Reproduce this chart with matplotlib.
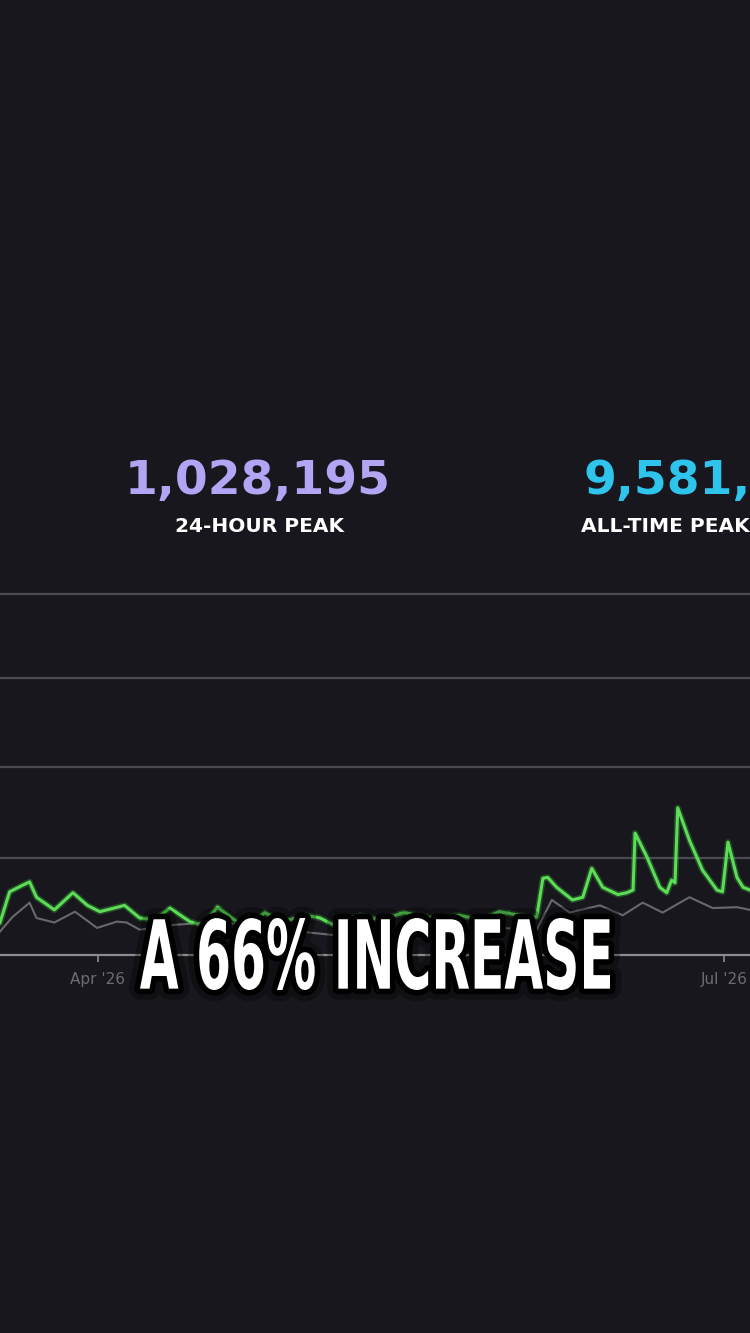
#
# Player count chart with peak stats and caption
#

import matplotlib.pyplot as plt
import matplotlib.patheffects as pe
from matplotlib.textpath import TextPath
from matplotlib.patches import PathPatch
from matplotlib.font_manager import FontProperties
from matplotlib.transforms import Affine2D

green_days = [-14.2, -12.8, -11.0, -9.9, -8.9, -6.3, -3.6, -1.5, 0.3, 2.9,
              3.9, 6.1, 8.3, 10.5, 13.4, 15.3, 17.4, 20.2, 22.1, 24.3,
              26.7, 30.4, 32.3, 34.4, 38.1, 41.0, 44.6, 48.3, 52.6, 55.5,
              58.4, 62.8, 63.8, 64.7, 65.4, 66.7, 69.0, 70.5, 71.8, 73.4,
              75.6, 76.9, 77.8, 78.1, 79.8, 81.7, 82.7, 83.4, 83.9, 84.3,
              86.0, 87.9, 90.0, 90.8, 91.6, 92.9, 93.8, 94.8]
green_vals = [0.36, 0.70, 0.77, 0.81, 0.64, 0.50, 0.69, 0.55, 0.48, 0.53,
              0.55, 0.41, 0.39, 0.52, 0.37, 0.33, 0.53, 0.37, 0.34, 0.47,
              0.37, 0.44, 0.41, 0.33, 0.44, 0.39, 0.47, 0.41, 0.44, 0.39,
              0.48, 0.42, 0.42, 0.85, 0.86, 0.75, 0.61, 0.64, 0.96, 0.75,
              0.67, 0.69, 0.72, 1.35, 1.09, 0.75, 0.69, 0.83, 0.80, 1.63,
              1.27, 0.94, 0.72, 0.70, 1.25, 0.86, 0.75, 0.72]

# grey (comparison) line
grey_days = [-14.2, -12.4, -9.9, -8.9, -6.3, -3.3, -0.1, 2.8, 4.2, 6.1,
             10.5, 17.4, 24.3, 34.4, 44.6, 58.4, 63.8, 66.0, 68.6, 73.0,
             76.3, 79.2, 82.1, 86.0, 89.4, 92.9, 94.8]
grey_vals = [0.26, 0.42, 0.58, 0.41, 0.36, 0.48, 0.30, 0.37, 0.36, 0.28,
             0.33, 0.37, 0.30, 0.22, 0.28, 0.30, 0.28, 0.61, 0.47, 0.55,
             0.44, 0.58, 0.47, 0.64, 0.52, 0.53, 0.50]

grid_levels = [1.07, 2.08, 3.07, 4.0]
tick_days = [0, 91]
tick_labels = ["Apr '26", "Jul '26"]

peak_24h = "1,028,195"
peak_all = "9,581,205"
caption = "A 66% INCREASE"

bg = '#17171d'

fig = plt.figure(figsize=(7.5, 13.33), dpi=100)
fig.patch.set_facecolor(bg)

ax = fig.add_axes([0, 1 - 955 / 1333, 1, 395 / 1333])
ax.set_facecolor(bg)
ax.set_xlim(-14.2, 94.8)
ax.set_ylim(0, 395 / 90.25)

for lvl in grid_levels:
    ax.axhline(lvl, color='#4a4a52', lw=1.6, zorder=1)

ax.plot(grey_days, grey_vals, color='#68686c', lw=1.5, zorder=2)
ax.plot(green_days, green_vals, color='#3fc23c', lw=4.5, alpha=0.3,
        solid_joinstyle='round', zorder=3)
ax.plot(green_days, green_vals, color='#5cdc57', lw=2.2,
        solid_joinstyle='round', zorder=4)

for side in ['top', 'left', 'right']:
    ax.spines[side].set_visible(False)
ax.spines['bottom'].set_color('#8c8c90')
ax.spines['bottom'].set_linewidth(1.6)
ax.set_yticks([])
ax.set_xticks(tick_days)
ax.set_xticklabels(tick_labels, fontsize=11)
ax.tick_params(axis='x', colors='#8c8c90', length=5, width=1.2, pad=7,
               labelcolor='#6c6c72')

# peak stats
fig.text(258 / 750, 1 - 481 / 1333, peak_24h, color='#b4a4f4',
         fontsize=34, fontweight='heavy', ha='center', va='center')
fig.text(260 / 750, 1 - 526 / 1333, "24-HOUR PEAK", color='white',
         fontsize=14.5, fontweight='heavy', ha='center', va='center')
fig.text(584 / 750, 1 - 481 / 1333, peak_all, color='#2ec4ec',
         fontsize=34, fontweight='heavy', ha='left', va='center')
fig.text(581 / 750, 1 - 526 / 1333, "ALL-TIME PEAK", color='white',
         fontsize=14.5, fontweight='heavy', ha='left', va='center')

# caption overlay: squeeze a bold text path into a condensed block
tp = TextPath((0, 0), caption, size=1,
              prop=FontProperties(family='DejaVu Sans', weight='bold'))
bb = tp.get_extents()
x0, x1, top, bottom = 140, 610, 918, 990
squeeze = (Affine2D()
           .translate(-bb.x0, -bb.y0)
           .scale((x1 - x0) / 100 / bb.width, (bottom - top) / 100 / bb.height)
           .translate(x0 / 100, (1333 - bottom) / 100))
cap_patch = PathPatch(squeeze.transform_path(tp), facecolor='white',
                      edgecolor='none', transform=fig.dpi_scale_trans,
                      zorder=10)
cap_patch.set_path_effects([
    pe.Stroke(linewidth=16, foreground='black', alpha=0.3, joinstyle='round'),
    pe.Stroke(linewidth=8, foreground='black', joinstyle='round'),
    pe.Normal()])
fig.add_artist(cap_patch)

fig.savefig('out.png', dpi=100, facecolor=bg)
